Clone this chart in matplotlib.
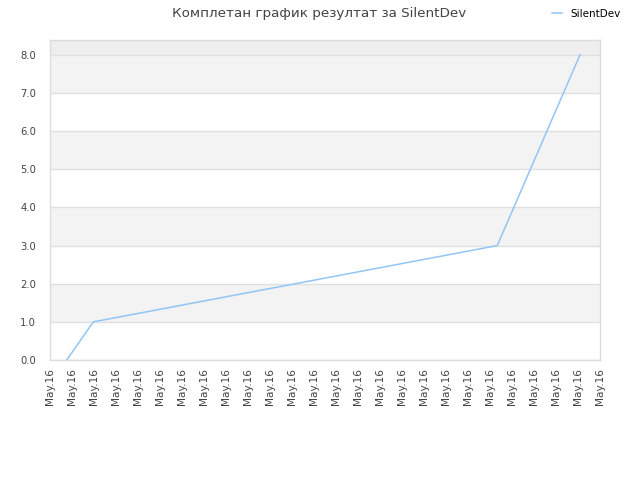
import matplotlib
matplotlib.use("Agg")
import matplotlib.pyplot as plt

title = "Комплетан график резултат за SilentDev"
series_name = "SilentDev"
tick_labels = ["May.16"] * 26
x_vals = [0.76, 1.97, 20.33, 24.09]
y_vals = [0.0, 1.0, 3.0, 8.0]
y_ticks = [0, 1, 2, 3, 4, 5, 6, 7, 8]

fig = plt.figure(figsize=(6.4, 4.8), dpi=100)
ax = fig.add_axes([50 / 640, 120 / 480, 550 / 640, 320 / 480])

ymax = 8.39
ax.set_xlim(0, 25)
ax.set_ylim(0, ymax)

# alternating bands
for i in range(0, 8):
    if i % 2 == 1:
        ax.axhspan(i, i + 1, color="#f3f3f3", zorder=0, lw=0)
ax.axhspan(8, ymax, color="#eeeeee", zorder=0, lw=0)
for yv in y_ticks:
    ax.axhline(yv, color="#e0e0e0", lw=1, zorder=1)

line, = ax.plot(x_vals, y_vals, color="#92c5f7", lw=1.1, zorder=3, label=series_name)

ax.set_yticks(y_ticks)
ax.set_yticklabels([f"{v:.1f}" for v in y_ticks], fontsize=7.2, color="#444444")
ax.set_xticks(range(len(tick_labels)))
ax.set_xticklabels(tick_labels, rotation=90, fontsize=7.6, color="#444444")
ax.tick_params(axis="both", length=0, pad=6)
ax.tick_params(axis="y", pad=10)
for s in ax.spines.values():
    s.set_color("#dddddd")
    s.set_linewidth(1)

fig.text(319 / 640, 1 - 13 / 480, title, ha="center", va="center",
         fontsize=9.7, color="#444444")
fig.legend(handles=[line], loc="center left", bbox_to_anchor=(552 / 640, 1 - 14 / 480),
           frameon=False, fontsize=7.5, handlelength=1.0, handletextpad=0.8,
           borderaxespad=0, borderpad=0)

fig.savefig("out.png", dpi=100)
